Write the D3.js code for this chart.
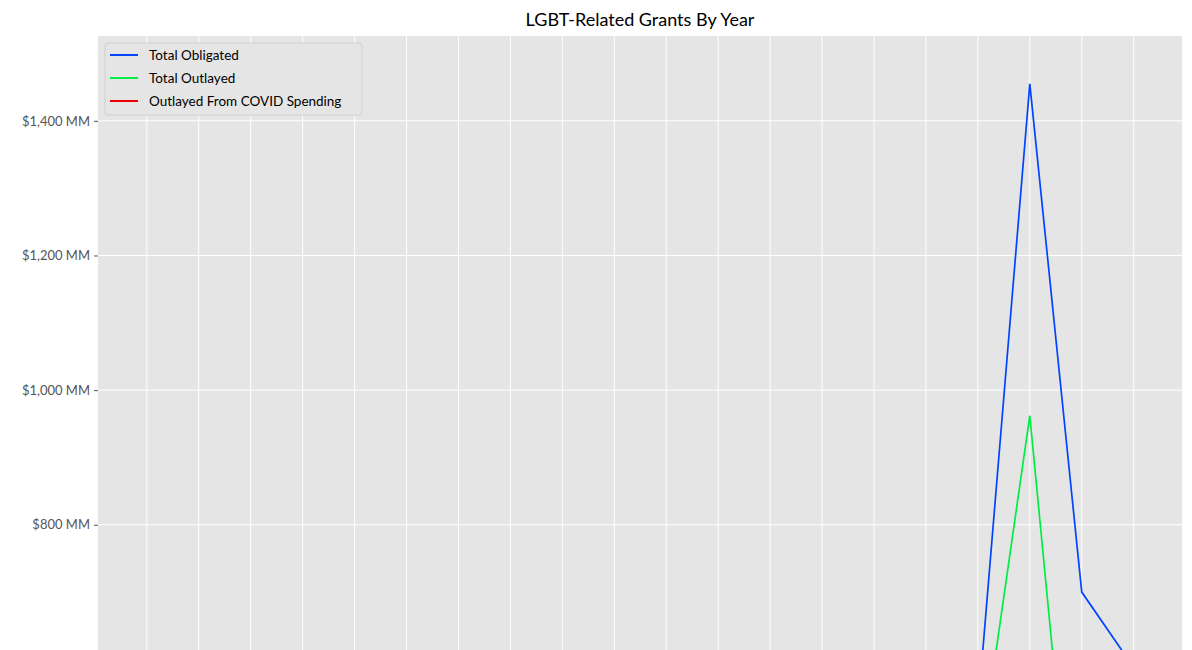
<!DOCTYPE html>
<html><head><meta charset="utf-8">
<script src="https://cdn.jsdelivr.net/npm/d3@7"></script>
<style>body{margin:0;background:#fff;font-family:Lato,"Open Sans",sans-serif;}</style>
</head><body><svg id="c" width="1192" height="650"></svg>
<script>
const years = [2004,2005,2006,2007,2008,2009,2010,2011,2012,2013,2014,2015,2016,2017,2018,2019,2020,2021,2022,2023];
const totalObligated = [120,140,150,170,180,260,240,230,220,250,260,280,300,320,340,380,525,1455,700,588];
const totalOutlayed = [90,110,120,130,140,180,200,190,180,200,210,220,240,260,280,300,424,962,160,60];
const covidOutlayed = [0,0,0,0,0,0,0,0,0,0,0,0,0,0,0,0,5,30,20,5];
const yTicks = [800,1000,1200,1400];
const seriesNames = ["Total Obligated","Total Outlayed","Outlayed From COVID Spending"];
const colors = ["#0044ff","#00ee44","#ee0000"];

const svg = d3.select("#c");
const L=98,R=1182,T=36,B=650;
const x = d3.scaleLinear().domain([2003.06,2023.93]).range([L,R]);
const y = d3.scaleLinear().domain([614,1526]).range([B,T]);
svg.append("rect").attr("x",L).attr("y",T).attr("width",R-L).attr("height",B-T).attr("fill","#e5e5e5");
svg.append("defs").append("clipPath").attr("id","clip").append("rect").attr("x",L).attr("y",T).attr("width",R-L).attr("height",B-T);
const g = svg.append("g");
g.selectAll(".vg").data(years).join("line").attr("x1",d=>x(d)).attr("x2",d=>x(d)).attr("y1",T).attr("y2",B).attr("stroke","#fff").attr("stroke-width",1);
g.selectAll(".hg").data(yTicks).join("line").attr("x1",L).attr("x2",R).attr("y1",d=>y(d)).attr("y2",d=>y(d)).attr("stroke","#fff").attr("stroke-width",1);
const ya = svg.append("g").attr("transform",`translate(${L},0)`).call(d3.axisLeft(y).tickValues(yTicks).tickSize(4).tickPadding(4).tickFormat(d=>"$"+d3.format(",")(d)+" MM"));
ya.select(".domain").remove();
ya.selectAll("line").attr("stroke","#555");
ya.selectAll("text").attr("fill","#555").style("font-size","13px").style("font-family","Lato,'Open Sans',sans-serif");
const line = d3.line().x((d,i)=>x(years[i])).y(d=>y(d));
const lg = svg.append("g").attr("clip-path","url(#clip)");
[covidOutlayed,totalOutlayed,totalObligated].forEach((s,k)=>{
  const ci=[2,1,0][k];
  lg.append("path").datum(s).attr("d",line).attr("fill","none").attr("stroke",colors[ci]).attr("stroke-width",1.7);
});
svg.append("text").attr("x",(L+R)/2).attr("y",26).attr("text-anchor","middle").style("font-size","18px").attr("fill","#000").text("LGBT-Related Grants By Year");
const leg = svg.append("g");
leg.append("rect").attr("x",105).attr("y",43).attr("width",257).attr("height",72).attr("rx",3).attr("fill","#e5e5e5").attr("stroke","#d0d0d0");
seriesNames.forEach((n,i)=>{
  const yy=55+i*23;
  leg.append("line").attr("x1",110).attr("x2",138).attr("y1",yy).attr("y2",yy).attr("stroke",colors[i]).attr("stroke-width",2);
  leg.append("text").attr("x",149).attr("y",yy+5).style("font-size","13.5px").attr("fill","#000").text(n);
});
</script></body></html>
